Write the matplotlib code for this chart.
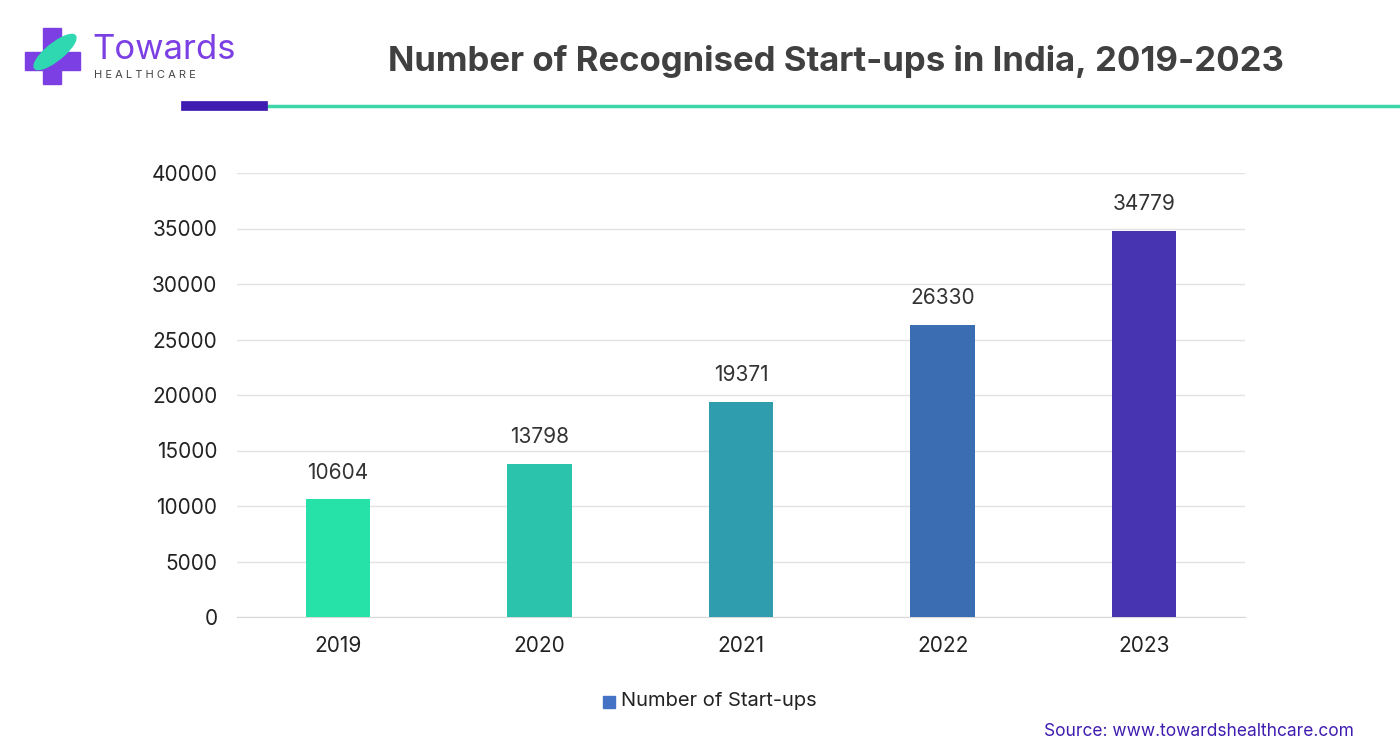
import matplotlib
matplotlib.use("Agg")
import matplotlib.pyplot as plt
from matplotlib.patches import Rectangle, Ellipse

years = ["2019", "2020", "2021", "2022", "2023"]
values = [10604, 13798, 19371, 26330, 34779]
colors = ["#27E2A8", "#2BC3AB", "#2F9DAE", "#3A6DB1", "#4634B0"]
yticks = [0, 5000, 10000, 15000, 20000, 25000, 30000, 35000, 40000]

plt.rcParams['font.family'] = ['Inter', 'DejaVu Sans']
fig = plt.figure(figsize=(14, 7.51), dpi=100)
W, H = 1400, 751
ax = fig.add_axes([237/W, 1-617/H, (1245-237)/W, (617-173)/H])
x = range(len(years))
ax.bar(x, values, width=0.32, color=colors, zorder=3)
for i, v in enumerate(values):
    ax.text(i, v + 1500, str(v), ha='center', va='bottom', fontsize=15, color='#333333')
ax.set_xlim(-0.5, 4.5)
ax.set_ylim(0, 40000)
ax.set_yticks(yticks)
ax.set_yticklabels([str(t) for t in yticks], fontsize=15, color='#222222')
ax.set_xticks(list(x))
ax.set_xticklabels(years, fontsize=15, color='#222222')
ax.grid(axis='y', color='#e3e3e3', linewidth=1, zorder=0)
for s in ['top', 'right', 'left']:
    ax.spines[s].set_visible(False)
ax.spines['bottom'].set_color('#d9d9d9')
ax.tick_params(axis='both', length=0, pad=14)

# legend
fig.patches.append(Rectangle((603/W, 1-708/H), 12/W, 12/H, transform=fig.transFigure, color='#4472C4'))
fig.text(621/W, 1-701/H, "Number of Start-ups", fontsize=14.5, va='center', color='#222222')

# title
fig.text(836/W, 1-62/H, "Number of Recognised Start-ups in India, 2019-2023", fontsize=25,
         fontweight='bold', ha='center', va='center', color='#404040')
# header lines
fig.add_artist(plt.Line2D([263/W, 1400/W], [1-106/H]*2, color='#3DD6A8', lw=2.5))
fig.add_artist(plt.Line2D([186/W, 263/W], [1-106/H]*2, color='#3F1DB0', lw=7))

# logo
fig.patches.append(Rectangle((25/W, 1-70/H), 55/W, 18/H, transform=fig.transFigure, color='#7B3FE4'))
fig.patches.append(Rectangle((43/W, 1-84/H), 18/W, 56/H, transform=fig.transFigure, color='#7B3FE4'))
fig.patches.append(Ellipse((55/W, 1-52/H), 22/W, 40/H, angle=-30, transform=fig.transFigure, color='#2FD8B0'))
fig.text(92/W, 1-50/H, "Towards", fontsize=25, color='#7B3FE4', va='center')
fig.text(94/W, 1-75/H, "H E A L T H C A R E", fontsize=8, color='#444444', va='center')

fig.text(1354/W, 1-731/H, "Source: www.towardshealthcare.com", fontsize=12.5, color='#3F1DB0',
         ha='right', va='center')
fig.savefig("out.png", dpi=100)
